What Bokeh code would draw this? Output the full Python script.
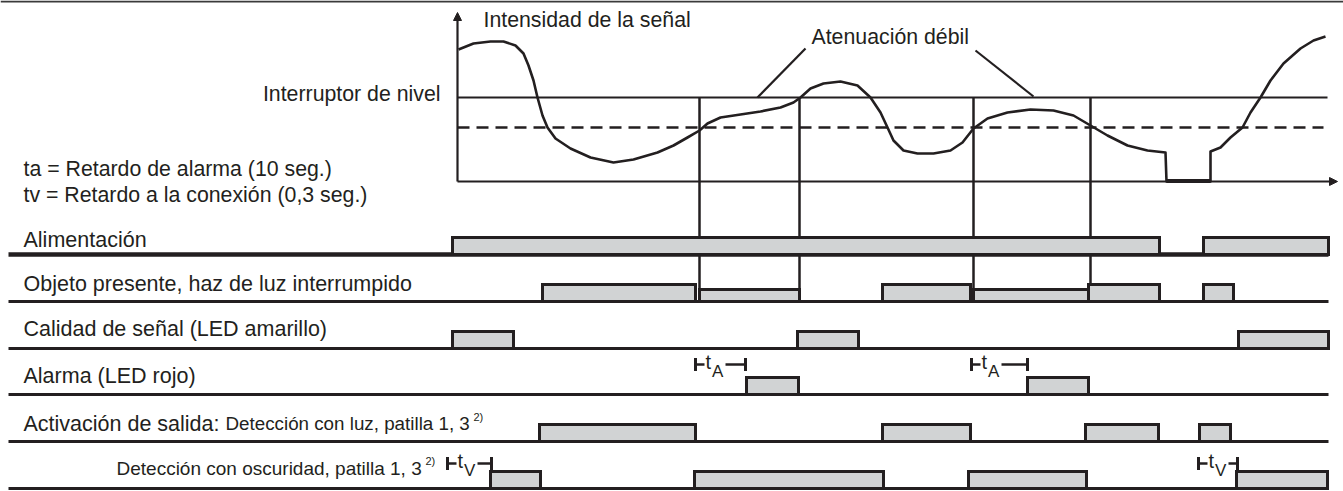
from bokeh.plotting import figure
from bokeh.models import Range1d, Arrow, NormalHead
from bokeh.core.properties import value
from bokeh.embed import file_html
from bokeh.resources import INLINE

INK = "#231f20"
FILL = "#d1d3d4"
FONT = "Liberation Sans"

# ---------------- data (time axis in drawing units) ----------------
row_labels = ["Alimentación",
              "Objeto presente, haz de luz interrumpido",
              "Calidad de señal (LED amarillo)",
              "Alarma (LED rojo)",
              "Activación de salida:",
              "Detección con oscuridad, patilla 1, 3"]

power_start = [452, 1203]
power_end = [1159, 1328]
object_start = [542, 882, 1088, 1203]
object_end = [695, 970, 1159, 1233]
weak_start = [699, 973]
weak_end = [799, 1088]
quality_start = [452, 797, 1238]
quality_end = [513, 858, 1328]
alarm_start = [746, 1027]
alarm_end = [798, 1088]
light_start = [539, 882, 1085, 1199]
light_end = [695, 970, 1158, 1230]
dark_start = [490, 694, 968, 1236]
dark_end = [540, 883, 1086, 1327]

switch_times = [699, 799, 973, 1090]
tA_start = [695, 971]
tA_end = [745, 1027]
tV_start = [447, 1198]
tV_end = [491, 1237]

signal_t = [458, 473, 490, 503, 515, 523, 528, 533, 537, 542, 547, 555, 570, 590,
            613, 633, 657, 673, 687, 699, 707, 720, 740, 760, 780, 793, 800, 810,
            823, 840, 857, 870, 880, 887, 893, 903, 917, 933, 950, 962, 973, 987,
            1007, 1030, 1053, 1073, 1090, 1107, 1127, 1147, 1165, 1166, 1210, 1210,
            1220, 1230, 1242, 1250, 1260, 1270, 1283, 1300, 1313, 1325]
signal_h = [132, 138, 140, 140, 136, 128, 116, 101, 84, 66, 54, 43, 33, 24,
            19, 22, 29, 36, 44, 51, 58, 64, 67, 70, 74, 79, 84, 93,
            98, 100, 96, 84, 69, 54, 41, 31, 28, 28, 31, 39, 53, 63,
            69, 72, 71, 66, 56, 46, 36, 31, 29, 0, 0, 30,
            34, 44, 54, 69, 84, 101, 118, 133, 141, 145]
level_switch = 84
level_dashed = 54

# ---------------- layout constants ----------------
AX_X = 457
AX_Y = 181
AX_END = 1337
AX_TOP = 12
LINE_END = 1327
baselines = [254, 301, 348, 394, 441, 488]
BAR_H = 17
WEAK_H = 12
DY = -7  # text baseline correction

p = figure(width=1343, height=491, x_range=Range1d(0, 1343), y_range=Range1d(491, 0),
           output_backend="svg", toolbar_location=None, min_border=0,
           x_axis_type=None, y_axis_type=None)
p.grid.visible = False
p.outline_line_color = None
p.background_fill_color = "white"
p.border_fill_color = "white"

# top rule
p.segment(x0=[0], y0=[1], x1=[1343], y1=[1], line_color="#3a3a3a", line_width=2)

# ---------------- signal diagram ----------------
sig_y = [AX_Y - h for h in signal_h]
p.segment(x0=[AX_X], y0=[AX_Y - level_switch], x1=[LINE_END], y1=[AX_Y - level_switch],
          line_color=INK, line_width=2.2)
p.segment(x0=[AX_X], y0=[AX_Y - level_dashed], x1=[LINE_END - 4], y1=[AX_Y - level_dashed],
          line_color=INK, line_width=2.5, line_dash="12 7")
p.add_layout(Arrow(end=NormalHead(size=8, fill_color=INK, line_color=INK, line_width=1),
                   x_start=AX_X, y_start=AX_Y, x_end=AX_X, y_end=AX_TOP,
                   line_color=INK, line_width=2.2))
p.add_layout(Arrow(end=NormalHead(size=8, fill_color=INK, line_color=INK, line_width=1),
                   x_start=AX_X, y_start=AX_Y, x_end=AX_END, y_end=AX_Y,
                   line_color=INK, line_width=2.2))
p.line(signal_t, sig_y, line_color=INK, line_width=2.6, line_join="round")
# bold part of the curve on the axis
p.segment(x0=[signal_t[51]], y0=[AX_Y - 0.5], x1=[signal_t[52]], y1=[AX_Y - 0.5],
          line_color=INK, line_width=4)

# leader lines for "Atenuación débil"
p.segment(x0=[805, 975], y0=[48, 50], x1=[757, 1033], y1=[AX_Y - level_switch, 96],
          line_color=INK, line_width=2.2)

# vertical switch lines
p.segment(x0=switch_times, y0=[AX_Y - level_switch] * 4, x1=switch_times,
          y1=[baselines[1]] * 4, line_color=INK, line_width=2.5)

# ---------------- timing rows ----------------
p.segment(x0=[8] * 6, y0=baselines, x1=[1328] * 6, y1=baselines,
          line_color=INK, line_width=[4.5, 3, 3, 3, 3, 3])


def bars(starts, ends, base, h):
    p.quad(left=starts, right=ends, bottom=[base] * len(starts), top=[base - h] * len(starts),
           fill_color=FILL, line_color=INK, line_width=3, line_join="miter")


bars(power_start, power_end, baselines[0], BAR_H)
bars(object_start, object_end, baselines[1], BAR_H)
bars(weak_start, weak_end, baselines[1], WEAK_H)
bars(quality_start, quality_end, baselines[2], BAR_H)
bars(alarm_start, alarm_end, baselines[3], BAR_H)
bars(light_start, light_end, baselines[4], BAR_H)
bars(dark_start, dark_end, baselines[5], BAR_H)


def delay_marker(starts, ends, ym, sub):
    n = len(starts)
    p.segment(x0=starts, y0=[ym - 6.5] * n, x1=starts, y1=[ym + 6.5] * n, line_color=INK, line_width=3)
    p.segment(x0=ends, y0=[ym - 6.5] * n, x1=ends, y1=[ym + 6.5] * n, line_color=INK, line_width=3)
    p.segment(x0=starts, y0=[ym] * n, x1=[s + 9 for s in starts], y1=[ym] * n,
              line_color=INK, line_width=2.5)
    p.segment(x0=[s + 30 for s in starts], y0=[ym] * n, x1=ends, y1=[ym] * n,
              line_color=INK, line_width=2.5)
    p.text(x=[s + 10 for s in starts], y=[ym + 4 + DY] * n, text=["t"] * n,
           text_font=value(FONT), text_font_size="20px", text_color=INK,
           text_baseline="alphabetic")
    p.text(x=[s + 16.5 for s in starts], y=[ym + 13.5 + DY] * n, text=[sub] * n,
           text_font=value(FONT), text_font_size="17px", text_color=INK,
           text_baseline="alphabetic")


delay_marker(tA_start, tA_end, 364, "A")
delay_marker(tV_start, tV_end, 463, "V")

# ---------------- texts ----------------
def txt(x, y, s, size, align="left"):
    p.text(x=[x], y=[y + DY], text=[s], text_font=value(FONT), text_font_size=size,
           text_color=INK, text_baseline="alphabetic", text_align=align)


txt(483, 26, "Intensidad de la señal", "21.3px")
txt(811, 43, "Atenuación débil", "21.3px")
txt(440, 100, "Interruptor de nivel", "21.3px", "right")
txt(23, 175, "ta = Retardo de alarma (10 seg.)", "21.3px")
txt(23, 201, "tv = Retardo a la conexión (0,3 seg.)", "21.3px")

label_y = [246.5, 290, 335, 382.5, 430, 475]
for i in range(5):
    txt(23, label_y[i], row_labels[i], "21.5px")
txt(225, 430, "Detección con luz, patilla 1, 3", "18.8px")
txt(473, 423, "2)", "11px")
txt(116, 475, row_labels[5], "19px")
txt(425, 467, "2)", "11px")

open("out.html", "w").write(file_html(p, INLINE))
